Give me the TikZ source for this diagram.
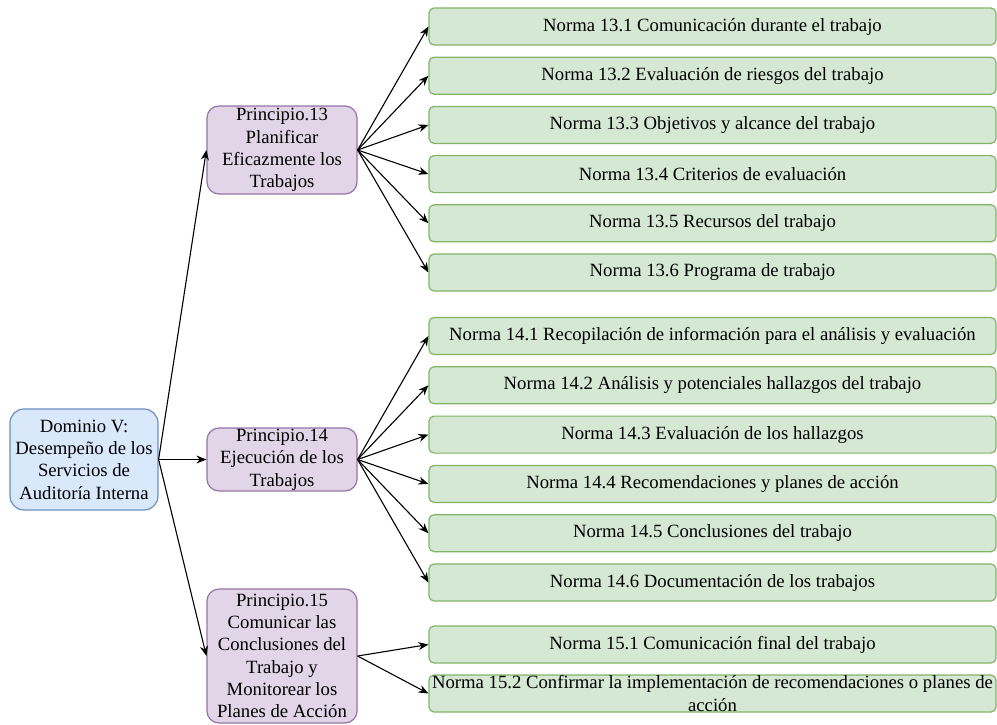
\documentclass[tikz,border=0pt]{standalone}
\usepackage{fontspec}
\setmainfont{Liberation Serif}
\usetikzlibrary{arrows.meta}
\definecolor{blueFill}{HTML}{DAE8FC}
\definecolor{blueLine}{HTML}{6C8EBF}
\definecolor{purpFill}{HTML}{E1D5E7}
\definecolor{purpLine}{HTML}{9673A6}
\definecolor{greenFill}{HTML}{D5E8D4}
\definecolor{greenLine}{HTML}{82B366}
\tikzset{
  labelfont/.style={font=\fontsize{18.7}{22.3}\selectfont},
  box/.style={draw, line width=1.2pt, inner sep=0pt, align=center, labelfont},
  rootbox/.style={box, fill=blueFill, draw=blueLine, rounded corners=14pt,
    minimum width=148pt, minimum height=101pt},
  principlebox/.style={box, fill=purpFill, draw=purpLine, rounded corners=12pt,
    minimum width=150pt},
  standardbox/.style={box, fill=greenFill, draw=greenLine, rounded corners=5pt,
    minimum width=567pt, minimum height=37pt},
  link/.style={line width=1.1pt, -{Stealth[length=10pt,width=8pt]}}
}
\begin{document}
\begin{tikzpicture}[x=1pt,y=-1pt]
\useasboundingbox (0,0) rectangle (997,724);

% root domain
\node[rootbox] (dom) at (84,459.5) {Dominio V:\\Desempeño de los\\Servicios de\\Auditoría Interna};

% principles
\node[principlebox, minimum height=88pt] (p13) at (282,150) {Principio.13\\Planificar\\Eficazmente los\\Trabajos};
\node[principlebox, minimum height=63pt] (p14) at (282,459.5) {Principio.14\\Ejecución de los\\Trabajos};
\node[principlebox, minimum height=134pt] (p15) at (282,656) {Principio.15\\Comunicar las\\Conclusiones del\\Trabajo y\\Monitorear los\\Planes de Acción};

% standards of principle 13
\node[standardbox] (n131) at (712.5,26.5) {Norma 13.1 Comunicación durante el trabajo};
\node[standardbox] (n132) at (712.5,75.7) {Norma 13.2 Evaluación de riesgos del trabajo};
\node[standardbox] (n133) at (712.5,124.9) {Norma 13.3 Objetivos y alcance del trabajo};
\node[standardbox] (n134) at (712.5,174.1) {Norma 13.4 Criterios de evaluación};
\node[standardbox] (n135) at (712.5,223.3) {Norma 13.5 Recursos del trabajo};
\node[standardbox] (n136) at (712.5,272.5) {Norma 13.6 Programa de trabajo};

% standards of principle 14
\node[standardbox] (n141) at (712.5,336) {Norma 14.1 Recopilación de información para el análisis y evaluación};
\node[standardbox] (n142) at (712.5,385.3) {Norma 14.2 Análisis y potenciales hallazgos del trabajo};
\node[standardbox] (n143) at (712.5,434.6) {Norma 14.3 Evaluación de los hallazgos};
\node[standardbox] (n144) at (712.5,483.9) {Norma 14.4 Recomendaciones y planes de acción};
\node[standardbox] (n145) at (712.5,533.2) {Norma 14.5 Conclusiones del trabajo};
\node[standardbox] (n146) at (712.5,582.5) {Norma 14.6 Documentación de los trabajos};

% standards of principle 15
\node[standardbox] (n151) at (712.5,644.5) {Norma 15.1 Comunicación final del trabajo};
\node[standardbox] (n152) at (712.5,693.5) {};
\node[labelfont, align=center, inner sep=0pt] (t152) at (n152.center)
  {Norma 15.2 Confirmar la implementación de recomendaciones o planes de\\acción};

% connectors
\foreach \p in {p13,p14,p15} \draw[link] (dom.east) -- (\p.west);
\foreach \n in {n131,n132,n133,n134,n135,n136} \draw[link] (p13.east) -- (\n.west);
\foreach \n in {n141,n142,n143,n144,n145,n146} \draw[link] (p14.east) -- (\n.west);
\foreach \n in {n151,n152} \draw[link] (p15.east) -- (\n.west);
\end{tikzpicture}
\end{document}
